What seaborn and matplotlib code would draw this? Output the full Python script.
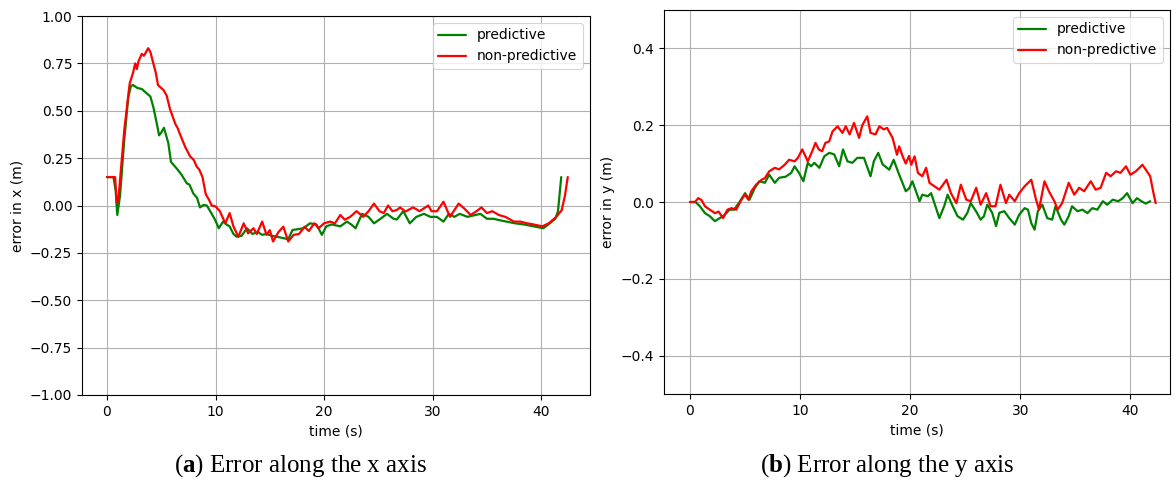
import numpy as np
import pandas as pd
import matplotlib
matplotlib.use("Agg")
import matplotlib.pyplot as plt
import seaborn as sns

# ---------------- data ----------------
x_pred_t = [0, 0.6, 0.8, 0.95, 1.2, 1.6, 1.96, 2.2, 2.4, 2.8, 3.2, 3.5, 4.0, 4.27, 4.6, 4.8, 5.0,
            5.25, 5.65, 5.9, 6.2, 6.5, 6.9, 7.35, 7.6, 7.95, 8.3, 8.57, 8.9, 9.2, 9.65, 10.0, 10.3,
            10.7, 11.0, 11.3, 11.65, 11.95, 12.4, 12.9, 13.4, 13.9, 14.3, 14.7, 15.2, 15.7, 16.3,
            16.7, 17.1, 17.6, 18.1, 18.7, 19.3, 19.8, 20.2, 20.7, 21.1, 21.5, 22.1, 22.5, 22.9,
            23.5, 24.1, 24.6, 25.2, 25.8, 26.4, 26.7, 27.3, 27.9, 28.5, 29.2, 29.8, 30.4, 31.0,
            31.5, 32.0, 32.5, 33.2, 33.8, 34.4, 35.0, 35.6, 36.2, 36.8, 37.6, 38.4, 39.3, 40.2,
            40.8, 41.3, 41.55, 41.85]
x_pred_v = [0.15, 0.15, 0.08, -0.05, 0.05, 0.35, 0.57, 0.63, 0.636, 0.62, 0.615, 0.60, 0.575, 0.52,
            0.43, 0.37, 0.385, 0.41, 0.33, 0.23, 0.21, 0.19, 0.16, 0.117, 0.11, 0.064, 0.04, -0.01,
            0.003, 0.0, -0.044, -0.08, -0.12, -0.085, -0.10, -0.11, -0.15, -0.165, -0.16, -0.12,
            -0.15, -0.14, -0.155, -0.15, -0.16, -0.165, -0.173, -0.178, -0.129, -0.125, -0.12,
            -0.094, -0.10, -0.155, -0.11, -0.10, -0.105, -0.11, -0.085, -0.10, -0.12, -0.044,
            -0.06, -0.094, -0.07, -0.044, -0.07, -0.074, -0.03, -0.094, -0.06, -0.044, -0.06,
            -0.06, -0.085, -0.044, -0.06, -0.044, -0.06, -0.052, -0.044, -0.07, -0.07, -0.078,
            -0.085, -0.094, -0.10, -0.11, -0.12, -0.094, -0.07, -0.03, 0.15]

x_npred_t = [0, 0.75, 0.9, 1.05, 1.3, 1.6, 2.0, 2.1, 2.4, 2.6, 2.75, 2.9, 3.2, 3.4, 3.6, 3.8, 4.0,
             4.27, 4.5, 4.7, 5.0, 5.2, 5.5, 5.8, 6.05, 6.3, 6.5, 6.7, 7.2, 7.65, 8.0, 8.27, 8.5,
             8.8, 9.1, 9.4, 9.65, 10.0, 10.4, 10.9, 11.3, 11.65, 12.1, 12.6, 13.0, 13.5, 13.8,
             14.3, 14.7, 15.0, 15.3, 15.8, 16.25, 16.7, 17.2, 17.7, 18.2, 18.6, 19.1, 19.5, 20.0,
             20.55, 21.0, 21.5, 21.9, 22.4, 23.0, 23.6, 24.1, 24.6, 25.1, 25.5, 25.9, 26.3, 26.7,
             27.0, 27.5, 28.2, 28.8, 29.6, 29.9, 30.4, 31.0, 31.6, 32.4, 32.9, 33.5, 34.0, 34.5,
             35.0, 35.5, 36.1, 36.7, 37.5, 38.1, 38.7, 39.3, 40.1, 40.7, 41.4, 41.9, 42.2, 42.45]
x_npred_v = [0.15, 0.15, 0.013, 0.03, 0.20, 0.40, 0.60, 0.645, 0.70, 0.75, 0.72, 0.76, 0.80, 0.79,
             0.81, 0.83, 0.81, 0.75, 0.70, 0.635, 0.62, 0.61, 0.58, 0.51, 0.47, 0.43, 0.41, 0.38,
             0.31, 0.26, 0.24, 0.205, 0.19, 0.15, 0.06, 0.03, 0.0, -0.005, -0.03, -0.094, -0.04,
             -0.11, -0.165, -0.094, -0.147, -0.12, -0.15, -0.085, -0.155, -0.13, -0.19, -0.14,
             -0.112, -0.19, -0.155, -0.15, -0.112, -0.135, -0.094, -0.12, -0.094, -0.085, -0.094,
             -0.05, -0.075, -0.06, -0.03, -0.06, -0.03, 0.01, -0.03, -0.04, 0.0, -0.03, -0.024,
             -0.01, -0.032, -0.01, -0.03, 0.0, -0.03, -0.03, 0.02, -0.06, 0.01, -0.015, -0.05,
             -0.032, -0.01, -0.04, -0.03, -0.05, -0.06, -0.085, -0.085, -0.094, -0.10, -0.11,
             -0.094, -0.06, -0.024, 0.055, 0.15]

y_pred_t = [0, 0.5, 0.9, 1.36, 1.8, 2.26, 2.7, 3.1, 3.6, 4.0, 4.5, 5.0, 5.4, 5.9, 6.3, 6.8, 7.2,
            7.7, 8.1, 8.7, 9.2, 9.5, 9.9, 10.3, 10.7, 11.0, 11.3, 11.75, 12.2, 12.65, 13.1, 13.55,
            13.9, 14.3, 14.75, 15.2, 15.8, 16.4, 16.7, 17.1, 17.5, 18.1, 18.5, 19.0, 19.3, 19.6,
            19.9, 20.2, 20.5, 20.85, 21.1, 21.6, 21.9, 22.2, 22.65, 23.1, 23.4, 23.8, 24.3, 24.8,
            25.2, 25.5, 26.0, 26.4, 26.7, 27.0, 27.45, 27.8, 28.1, 28.55, 29.0, 29.5, 29.9, 30.4,
            30.7, 31.0, 31.3, 31.6, 32.0, 32.45, 32.9, 33.2, 33.7, 34.0, 34.4, 34.7, 35.2, 35.65,
            36.1, 36.55, 37.0, 37.5, 37.9, 38.4, 38.9, 39.3, 39.7, 40.2, 40.6, 41.0, 41.4, 41.8]
y_pred_v = [0.0, 0.0, -0.011, -0.029, -0.037, -0.05, -0.042, -0.035, -0.02, -0.02, 0.0, 0.023,
            0.006, 0.037, 0.054, 0.05, 0.071, 0.05, 0.063, 0.066, 0.076, 0.093, 0.076, 0.054,
            0.102, 0.093, 0.102, 0.089, 0.119, 0.128, 0.124, 0.093, 0.137, 0.106, 0.102, 0.115,
            0.115, 0.067, 0.106, 0.128, 0.098, 0.084, 0.11, 0.071, 0.05, 0.028, 0.035, 0.054,
            0.03, 0.002, 0.019, 0.015, 0.023, -0.003, -0.042, -0.01, 0.019, -0.007, -0.037,
            -0.046, -0.028, -0.003, -0.025, -0.046, -0.037, -0.007, -0.028, -0.063, -0.028,
            -0.024, -0.042, -0.059, -0.033, -0.016, -0.02, -0.055, -0.072, -0.024, -0.007,
            -0.042, -0.046, -0.011, -0.046, -0.059, -0.037, -0.011, -0.024, -0.02, -0.029,
            -0.016, -0.02, 0.002, -0.007, 0.006, 0.002, 0.01, 0.023, -0.003, 0.01, 0.002,
            -0.004, 0.002]

y_npred_t = [0, 0.45, 0.75, 1.05, 1.36, 1.8, 2.26, 2.6, 3.0, 3.4, 3.77, 4.2, 4.67, 5.0, 5.3, 5.57,
             6.0, 6.5, 6.8, 7.2, 7.7, 8.1, 8.6, 9.0, 9.5, 9.8, 10.2, 10.7, 11.1, 11.4, 11.7, 12.0,
             12.3, 12.65, 12.95, 13.4, 13.85, 14.15, 14.5, 14.9, 15.36, 15.65, 16.1, 16.4, 16.85,
             17.2, 17.6, 17.9, 18.4, 18.8, 19.0, 19.3, 19.6, 19.9, 20.1, 20.4, 20.7, 21.1, 21.45,
             21.75, 22.2, 22.65, 23.3, 23.7, 24.2, 24.6, 25.1, 25.5, 26.0, 26.4, 26.9, 27.3,
             27.75, 28.2, 28.7, 29.0, 29.5, 29.9, 30.4, 31.0, 31.4, 31.7, 32.2, 32.6, 33.1, 33.4,
             33.8, 34.4, 34.9, 35.35, 35.8, 36.4, 36.85, 37.3, 37.8, 38.2, 38.7, 39.1, 39.6,
             40.0, 40.5, 41.1, 41.5, 41.8, 42.1, 42.3]
y_npred_v = [0.0, 0.0, 0.01, 0.005, -0.011, -0.02, -0.029, -0.025, -0.042, -0.02, -0.016, -0.02,
             0.006, 0.019, 0.006, 0.028, 0.045, 0.058, 0.062, 0.08, 0.089, 0.085, 0.097, 0.11,
             0.106, 0.115, 0.137, 0.106, 0.132, 0.154, 0.137, 0.132, 0.154, 0.158, 0.184, 0.197,
             0.18, 0.197, 0.176, 0.206, 0.167, 0.20, 0.223, 0.18, 0.176, 0.197, 0.189, 0.193,
             0.167, 0.123, 0.145, 0.12, 0.10, 0.12, 0.097, 0.119, 0.076, 0.067, 0.089, 0.05,
             0.041, 0.032, 0.058, 0.023, -0.003, 0.045, 0.006, 0.002, 0.037, -0.007, 0.023,
             -0.011, -0.011, 0.045, -0.003, 0.019, 0.002, 0.023, 0.041, 0.058, 0.01, -0.02,
             0.054, 0.028, 0.002, -0.02, -0.003, 0.05, 0.019, 0.037, 0.028, 0.054, 0.032, 0.037,
             0.076, 0.067, 0.08, 0.076, 0.093, 0.071, 0.08, 0.097, 0.08, 0.067, 0.023, -0.003]

series_labels = ["predictive", "non-predictive"]
series_colors = ["green", "red"]
x_yticks = [-1.00, -0.75, -0.50, -0.25, 0.00, 0.25, 0.50, 0.75, 1.00]
y_yticks = [-0.4, -0.2, 0.0, 0.2, 0.4]
x_xticks = [0, 10, 20, 30, 40]
captions = [("a", "Error along the x axis"), ("b", "Error along the y axis")]

# ---------------- style ----------------
sns.set_style("ticks")
plt.rcParams.update({
    "font.family": ["DejaVu Sans"],
    "text.color": "black",
    "axes.labelcolor": "black",
    "axes.edgecolor": "black",
    "axes.linewidth": 0.8,
    "grid.color": "#b0b0b0",
    "grid.linewidth": 0.8,
    "xtick.color": "black",
    "ytick.color": "black",
    "xtick.direction": "out",
    "ytick.direction": "out",
    "mathtext.fontset": "custom",
    "mathtext.rm": "Liberation Serif",
    "mathtext.bf": "Liberation Serif:bold",
})

fig = plt.figure(figsize=(11.76, 4.84), dpi=100)
ax1 = fig.add_axes([82 / 1176, 1 - 395 / 484, (590 - 82) / 1176, (395 - 16) / 484])
ax2 = fig.add_axes([664 / 1176, 1 - 394 / 484, (1170 - 664) / 1176, (394 - 10) / 484])


def make_df(t1, v1, t2, v2):
    return pd.concat([
        pd.DataFrame({"t": t1, "v": v1, "s": series_labels[0]}),
        pd.DataFrame({"t": t2, "v": v2, "s": series_labels[1]}),
    ], ignore_index=True)


df_x = make_df(x_pred_t, x_pred_v, x_npred_t, x_npred_v)
df_y = make_df(y_pred_t, y_pred_v, y_npred_t, y_npred_v)

for ax, df in [(ax1, df_x), (ax2, df_y)]:
    sns.lineplot(data=df, x="t", y="v", hue="s", palette=dict(zip(series_labels, series_colors)),
                 estimator=None, sort=False, linewidth=1.6, ax=ax)
    ax.grid(True)
    ax.set_axisbelow(True)
    ax.set_xlabel("time (s)", fontsize=10, color="black")
    ax.set_xticks(x_xticks)
    ax.tick_params(labelsize=10, colors="black")
    leg = ax.legend(loc="upper right", fontsize=10, framealpha=0.8, edgecolor="0.8",
                    fancybox=True)
    leg.get_frame().set_linewidth(0.8)
    for txt in leg.get_texts():
        txt.set_color("black")

ax1.set_xlim(-2.3, 44.5)
ax1.set_ylim(-1.0, 1.0)
ax1.set_yticks(x_yticks)
ax1.set_yticklabels([f"{v:.2f}".replace("-", "\u2212") for v in x_yticks])
ax1.set_ylabel("error in x (m)", fontsize=10, color="black")

ax2.set_xlim(-2.36, 43.6)
ax2.set_ylim(-0.5, 0.5)
ax2.set_yticks(y_yticks)
ax2.set_yticklabels([f"{v:.1f}".replace("-", "\u2212") for v in y_yticks])
ax2.set_ylabel("error in y (m)", fontsize=10, color="black")

for (letter, text), xc in zip(captions, [301 / 1176, 887 / 1176]):
    fig.text(xc, 1 - 466 / 484, r"($\mathbf{" + letter + r"}$) " + text, ha="center",
             va="center", fontsize=18, family="Liberation Serif", color="black")

fig.savefig("out.png", dpi=100)
